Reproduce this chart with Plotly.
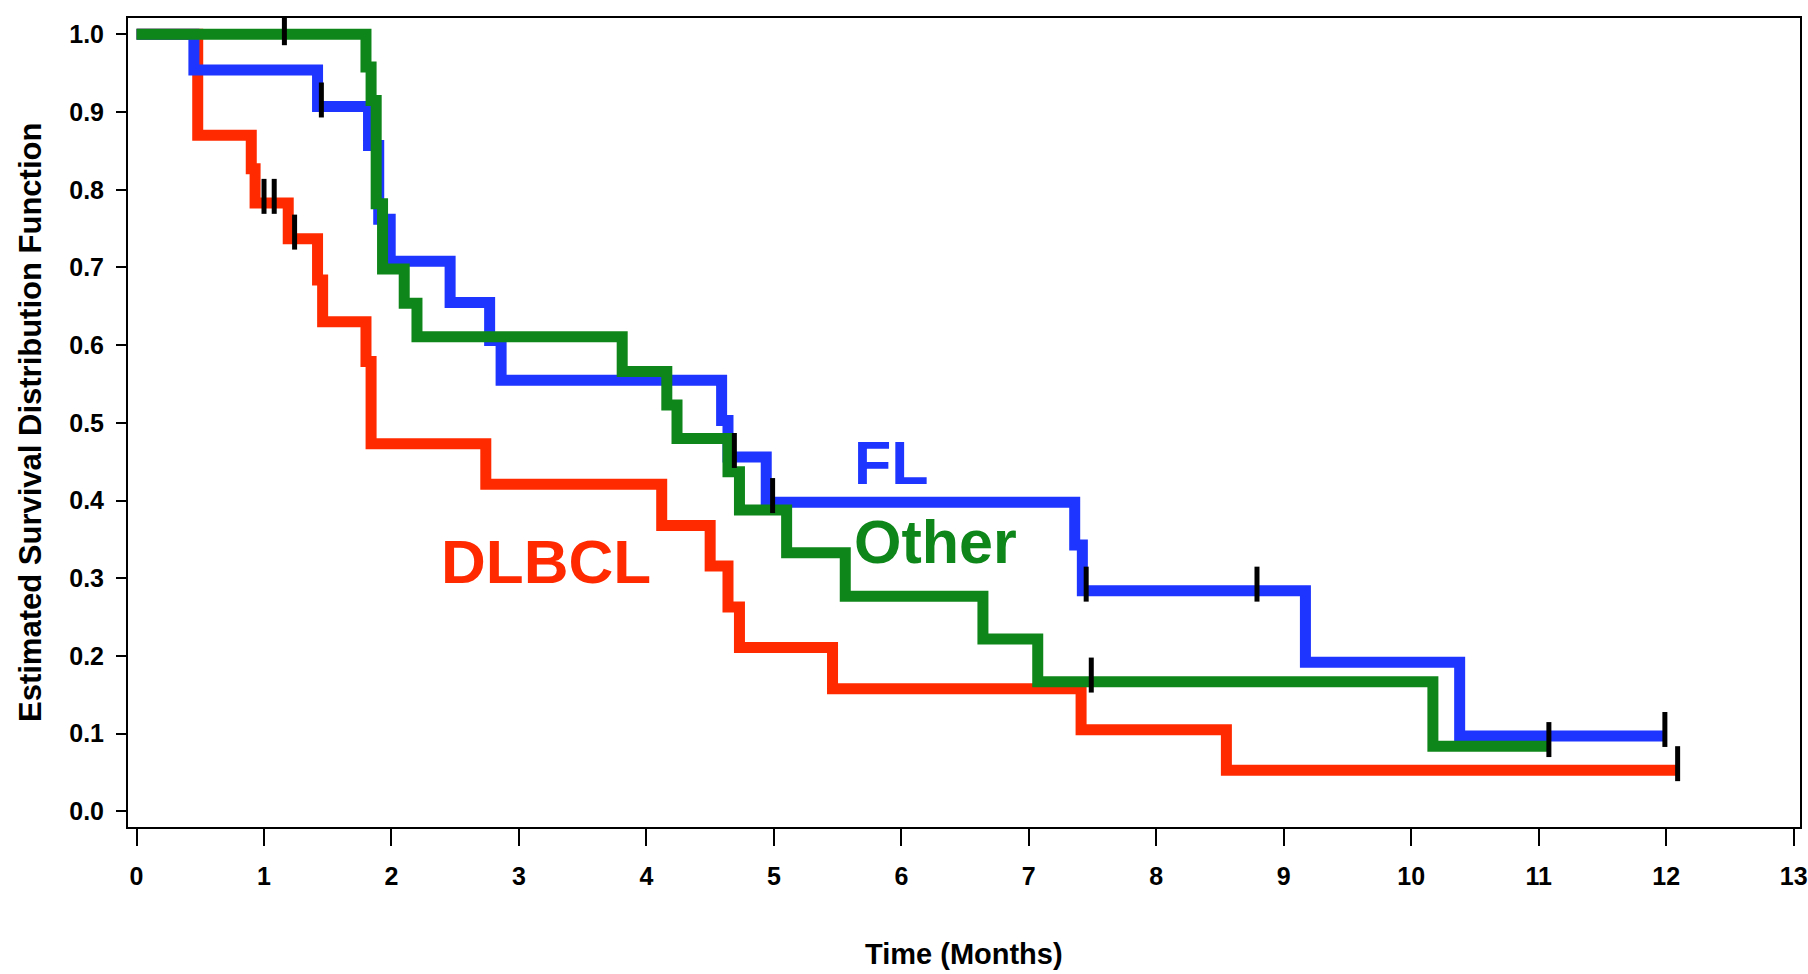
import plotly.graph_objects as go

# ---- data ----
dlbcl_t = [0, 0.48, 0.90, 0.93, 1.19, 1.42, 1.46, 1.80, 1.84, 2.74, 4.12, 4.50, 4.64, 4.73, 5.46, 7.41, 8.55, 12.09]
dlbcl_s = [1.0, 0.870, 0.827, 0.783, 0.737, 0.684, 0.630, 0.579, 0.473, 0.421, 0.368, 0.316, 0.263, 0.211, 0.158, 0.105, 0.053, 0.053]
dlbcl_cens_t = [1.00, 1.08, 1.24, 12.09]
dlbcl_cens_s = [0.783, 0.783, 0.737, 0.053]

fl_t = [0, 0.45, 1.42, 1.82, 1.90, 1.99, 2.46, 2.77, 2.86, 4.59, 4.64, 4.94, 7.36, 7.42, 9.17, 10.38, 11.99]
fl_s = [1.0, 0.954, 0.907, 0.857, 0.762, 0.708, 0.655, 0.606, 0.555, 0.503, 0.456, 0.398, 0.343, 0.284, 0.192, 0.097, 0.097]
fl_cens_t = [1.45, 4.69, 4.99, 7.45, 8.79, 11.99]
fl_cens_s = [0.907, 0.456, 0.398, 0.284, 0.284, 0.097]

oth_t = [0, 1.80, 1.84, 1.88, 1.93, 2.10, 2.20, 3.81, 4.16, 4.24, 4.64, 4.73, 5.10, 5.56, 6.64, 7.07, 10.17, 11.08]
oth_s = [1.0, 0.958, 0.915, 0.782, 0.698, 0.654, 0.611, 0.566, 0.523, 0.480, 0.437, 0.388, 0.333, 0.277, 0.222, 0.167, 0.084, 0.084]
oth_cens_t = [1.16, 7.49, 11.08]
oth_cens_s = [1.0, 0.167, 0.084]

x_ticks = list(range(0, 14))
y_ticks = [i / 10 for i in range(0, 11)]
y_ticklabels = [f"{v:.1f}" for v in y_ticks]

RED = "#ff2a00"
BLUE = "#1d35ff"
GREEN = "#0f861a"

fig = go.Figure()

for t, s, c in [(dlbcl_t, dlbcl_s, RED), (fl_t, fl_s, BLUE), (oth_t, oth_s, GREEN)]:
    fig.add_trace(go.Scatter(x=t, y=s, mode="lines", line=dict(color=c, width=11, shape="hv"),
                             hoverinfo="skip", showlegend=False))

# censor marks
cx, cy = [], []
for ts, ss in [(dlbcl_cens_t, dlbcl_cens_s), (fl_cens_t, fl_cens_s), (oth_cens_t, oth_cens_s)]:
    for t, s in zip(ts, ss):
        cx += [t, t, None]
        cy += [s - 0.014, s + 0.031, None]
fig.add_trace(go.Scatter(x=cx, y=cy, mode="lines", line=dict(color="black", width=5),
                         hoverinfo="skip", showlegend=False))

tickfam = "Liberation Sans, Arial, sans-serif"
wide = "Liberation Sans, Arial, sans-serif"

fig.update_layout(
    width=1808, height=974,
    margin=dict(l=128, r=8, t=18, b=147, autoexpand=False),
    paper_bgcolor="white", plot_bgcolor="white",
    xaxis=dict(range=[-0.067, 13.05], tickvals=x_ticks, ticks="outside", ticklen=17, tickwidth=2,
               tickcolor="black", showline=True, linecolor="black", linewidth=2, mirror=True,
               showgrid=False, zeroline=False, automargin=False,
               tickfont=dict(family=tickfam, size=25, color="black", weight="bold"),
               ticklabelstandoff=9),
    yaxis=dict(range=[-0.020, 1.021], tickvals=y_ticks, ticktext=y_ticklabels, ticks="outside",
               ticklen=10, tickwidth=2, tickcolor="black", showline=True, linecolor="black",
               linewidth=2, mirror=True, showgrid=False, zeroline=False, automargin=False,
               tickfont=dict(family=tickfam, size=25, color="black", weight="bold"),
               ticklabelstandoff=7),
    annotations=[
        dict(text="DLBCL", x=2.37, y=0.322, xref="x", yref="y", xanchor="left", yanchor="middle",
             showarrow=False, font=dict(family=wide, size=62, color=RED, weight="bold")),
        dict(text="Other", x=5.61, y=0.347, xref="x", yref="y", xanchor="left", yanchor="middle",
             showarrow=False, font=dict(family=wide, size=61, color=GREEN, weight="bold")),
        dict(text="FL", x=5.61, y=0.449, xref="x", yref="y", xanchor="left", yanchor="middle",
             showarrow=False, font=dict(family=wide, size=61, color=BLUE, weight="bold")),
        dict(text="Estimated Survival Distribution Function", x=30, y=974 - 423, xref="paper",
             yref="paper", showarrow=False, textangle=-90, xanchor="center", yanchor="middle",
             font=dict(family=wide, size=31, color="black", weight="bold")),
        dict(text="Time (Months)", x=964, y=974 - 954, xref="paper", yref="paper", showarrow=False,
             xanchor="center", yanchor="middle",
             font=dict(family=tickfam, size=29, color="black", weight="bold")),
    ],
)

# convert pixel-placed title annotations to paper coordinates
pw = 1808 - 128 - 8
ph = 974 - 18 - 147
for a in fig.layout.annotations:
    if a.xref == "paper":
        a.x = (a.x - 128) / pw
        a.y = (a.y - 147) / ph

fig.write_html("out.html", config={"displayModeBar": False},
               post_script="document.body.style.margin='0';document.body.style.overflow='hidden';")
